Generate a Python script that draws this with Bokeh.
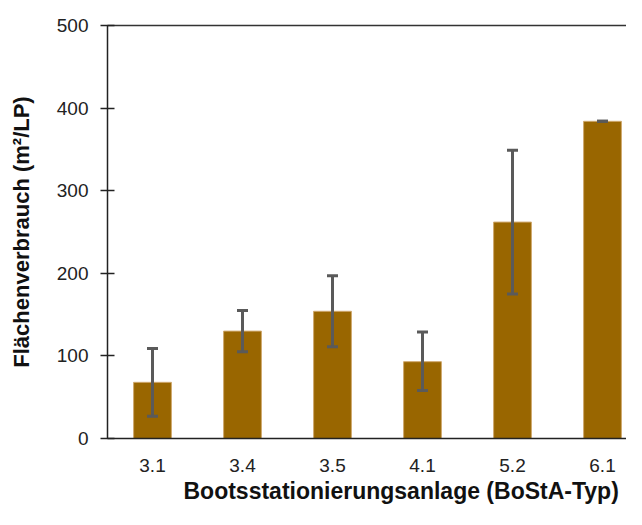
from bokeh.plotting import figure
from bokeh.models import (ColumnDataSource, Whisker, TeeHead, FixedTicker, Title,
                          LinearAxis, Range1d)
from bokeh.embed import file_html
from bokeh.resources import INLINE

categories = ["3.1", "3.4", "3.5", "4.1", "5.2", "6.1"]
means = [68, 130, 154, 93, 262, 384]
err_upper = [109, 155, 197, 129, 349, 384]
err_lower = [27, 105, 111, 58, 175, 384]
y_ticks = [0, 100, 200, 300, 400, 500]

xpos = list(range(1, len(categories) + 1))
src = ColumnDataSource(dict(x=xpos, val=means, up=err_upper, lo=err_lower))

W, H = 626, 509
LEFT, TOP, FRAME_H = 107, 25, 413
p = figure(x_range=Range1d(0.5, 0.5 + (W - LEFT) / 90.0), y_range=Range1d(0, 500),
           width=W, height=H, output_backend="svg", toolbar_location=None,
           min_border_left=LEFT, min_border_top=TOP,
           min_border_bottom=H - TOP - FRAME_H, min_border_right=0)
p.outline_line_color = None
p.grid.grid_line_color = None

xa = p.below[0]
ya = p.left[0]

p.vbar(x="x", top="val", width=0.42, source=src, fill_color="#996600",
       line_color="#cfa86e", line_width=1)

w = Whisker(base="x", upper="up", lower="lo", source=src, level="overlay",
            line_color="#5a5a5a", line_width=3,
            upper_head=TeeHead(size=11, line_color="#5a5a5a", line_width=3),
            lower_head=TeeHead(size=11, line_color="#5a5a5a", line_width=3))
p.add_layout(w)

# top border line at 500
top_axis = LinearAxis(ticker=FixedTicker(ticks=[]), axis_line_color="#333333",
                      axis_line_width=1.5, major_tick_line_color=None,
                      minor_tick_line_color=None, major_label_text_color=None,
                      major_label_text_font_size="0px", major_tick_in=0, major_tick_out=0,
                      major_label_standoff=0)
p.add_layout(top_axis, "above")

ya.ticker = FixedTicker(ticks=y_ticks)
ya.axis_line_color = "#222222"
ya.axis_line_width = 1.5
ya.major_tick_line_color = "#222222"
ya.major_tick_line_width = 1.5
ya.major_tick_in = 7
ya.major_tick_out = 7
ya.minor_tick_line_color = None
ya.major_label_text_font = "Liberation Sans"
ya.major_label_text_font_size = "19px"
ya.major_label_text_color = "#222222"
ya.major_label_standoff = 12
ya.axis_label = "Flächenverbrauch (m²/LP)"
ya.axis_label_text_font = "Liberation Sans"
ya.axis_label_text_font_style = "bold"
ya.axis_label_text_font_size = "22px"
ya.axis_label_text_color = "#111111"
ya.axis_label_standoff = 20

xa.ticker = FixedTicker(ticks=xpos)
xa.major_label_overrides = {i: c for i, c in zip(xpos, categories)}
xa.axis_line_color = "#222222"
xa.axis_line_width = 1.5
xa.major_tick_line_color = None
xa.minor_tick_line_color = None
xa.major_label_text_font = "Liberation Sans"
xa.major_label_text_font_size = "19px"
xa.major_label_text_color = "#222222"
xa.major_label_standoff = 14

t = Title(text="Bootsstationierungsanlage (BoStA-Typ)", align="left", offset=76,
          text_font="Liberation Sans", text_font_style="bold", text_font_size="23px",
          text_color="#111111", standoff=3)
p.add_layout(t, "below")

open("out.html", "w").write(file_html(p, INLINE))
